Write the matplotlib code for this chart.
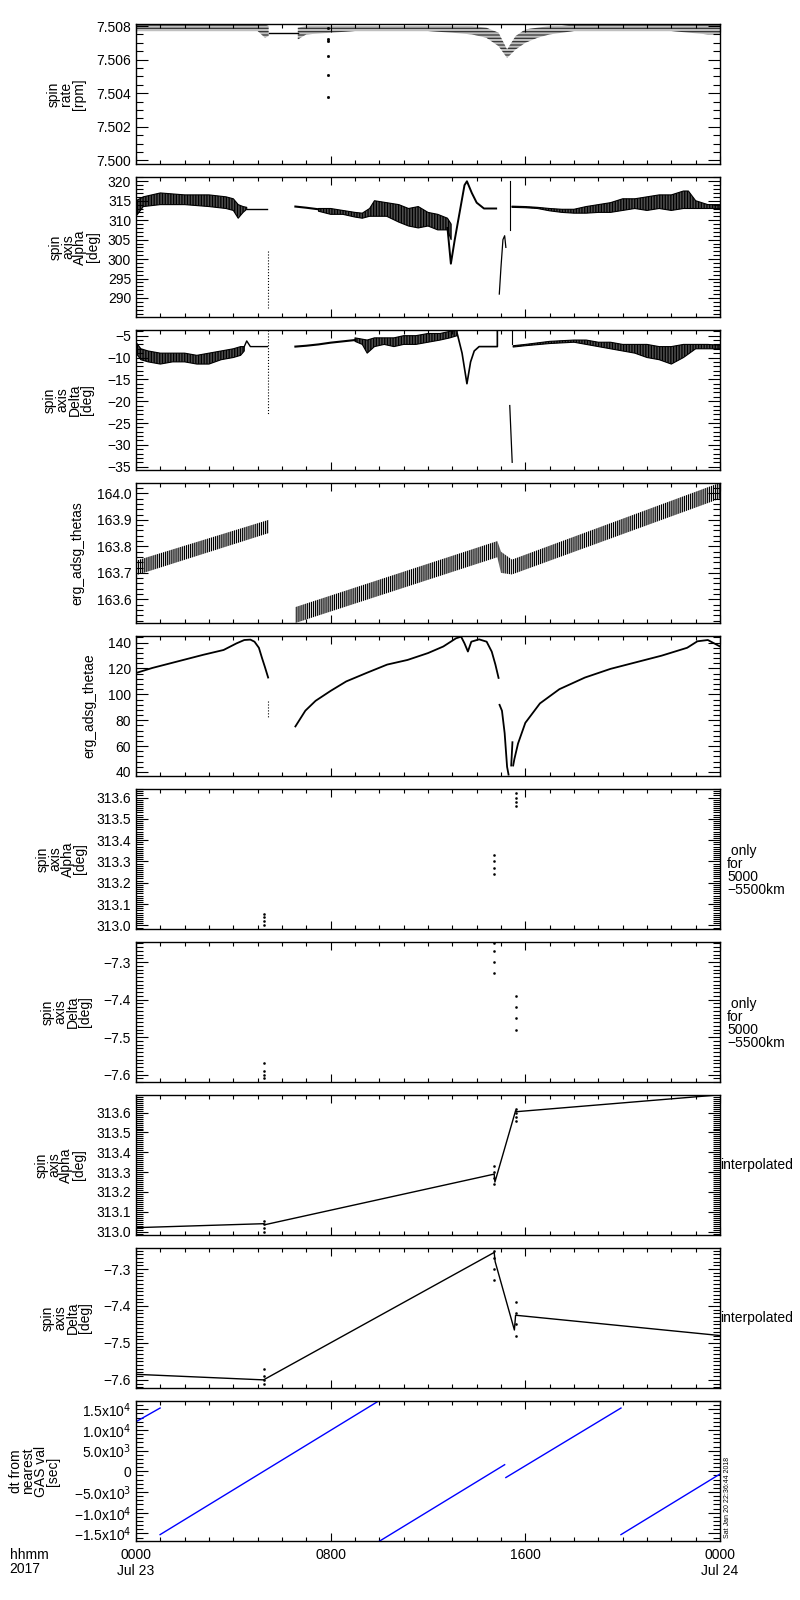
import numpy as np
import matplotlib.pyplot as plt
from matplotlib.ticker import MultipleLocator, FixedLocator, FuncFormatter

plt.rcParams['font.family'] = ['Liberation Sans', 'DejaVu Sans']
plt.rcParams['axes.linewidth'] = 1.0
plt.rcParams['hatch.linewidth'] = 0.9

# hours since 2017-07-23 0000 UT
hour_ticks = [0, 8, 16, 24]
hour_labels = ['0000\nJul 23', '0800', '1600', '0000\nJul 24']

# --- spin rate [rpm] (band of quantised values) ---
rate_a_t = [0, 5.0, 5.3, 5.45]
rate_a_lo = [7.5077, 7.5077, 7.5073, 7.5074]
rate_a_hi = [7.5081, 7.5081, 7.5081, 7.5080]
rate_flat_t = [5.45, 6.65]
rate_flat_v = [7.5076, 7.5076]
rate_b_t = [6.65, 7.0, 8, 9, 10, 11, 12, 13, 13.8, 14.4, 14.9, 15.25, 15.6, 16.0, 16.5, 17, 17.5, 18, 20, 22, 23.5, 24]
rate_b_lo = [7.5072, 7.5075, 7.5076, 7.5077, 7.5077, 7.5077, 7.5077, 7.5076, 7.5075, 7.5073, 7.5068, 7.5061,
             7.5066, 7.5070, 7.5073, 7.5075, 7.5076, 7.5077, 7.5077, 7.5077, 7.5075, 7.5075]
rate_b_hi = [7.5079, 7.5080, 7.5080, 7.5080, 7.5080, 7.5080, 7.5080, 7.5080, 7.5080, 7.5079, 7.5076, 7.5066,
             7.5074, 7.5078, 7.5079, 7.5080, 7.5080, 7.5081, 7.5081, 7.5081, 7.5081, 7.5081]
rate_spike_t = [7.87, 7.87, 7.87, 7.87, 7.87, 7.87]
rate_spike_v = [7.5079, 7.5072, 7.5071, 7.5062, 7.5051, 7.5038]

# --- spin axis Alpha [deg] ---
alp_a_t = [0, 0.3, 1, 2, 3, 3.7, 4.0, 4.2, 4.4, 4.55]
alp_a_lo = [311, 313.5, 314, 314, 313.5, 313, 312.5, 310.5, 312, 312.8]
alp_a_hi = [315, 316, 317, 316.5, 316.5, 316, 315.5, 314, 313.5, 313.3]
alp_flat_t = [4.55, 5.4]
alp_flat_v = [313, 313]
alp_drop_t = [5.43, 5.43, 5.43, 5.43, 5.43]
alp_drop_v = [302, 299, 296, 292, 287.5]
alp_line_t = [6.55, 7.0, 7.5]
alp_line_v = [313.5, 313.2, 312.8]
alp_b_t = [7.5, 8, 8.5, 9, 9.3, 9.6, 9.8, 10.3, 10.8, 11.2, 11.6, 12.0, 12.4, 12.8, 12.95]
alp_b_lo = [312.3, 311.5, 311.5, 310.8, 310.5, 311, 311, 311, 309.5, 308.5, 308, 308.5, 307.5, 307.5, 305]
alp_b_hi = [313, 313, 312.5, 312, 311.8, 313, 315, 314.5, 314, 313, 313.5, 312, 311.5, 310.5, 309]
alp_swing_t = [12.8, 12.94, 13.1, 13.3, 13.5, 13.6, 13.8, 14.0, 14.3, 14.8]
alp_swing_v = [308, 298.8, 305, 312, 319, 320, 317, 314.5, 313, 313]
alp_gap_t = [14.93, 15.0, 15.08, 15.15, 15.2]
alp_gap_v = [291, 298, 305, 306, 303]
alp_jump_t = [15.35, 15.35, 15.35]
alp_jump_v = [320, 314, 307.5]
alp_c_t = [15.45, 16, 16.5, 17, 17.5, 18, 18.5, 19, 19.5, 20, 20.5, 21, 21.5, 22, 22.5, 22.7, 23, 23.5, 24]
alp_c_lo = [313.3, 313.2, 313, 312.4, 312, 311.8, 311.8, 312, 312, 312.5, 313, 312.5, 313, 312.5, 313, 313, 313, 313, 313]
alp_c_hi = [313.6, 313.5, 313.3, 313, 312.8, 312.8, 313.5, 314, 314.5, 315.5, 315.5, 316, 316.5, 316.5, 317.5, 317.5,
            315, 314, 314]

# --- spin axis Delta [deg] ---
dlt_a_t = [0, 0.2, 0.5, 1, 1.5, 2, 2.5, 3, 3.5, 4.0, 4.3, 4.45]
dlt_a_lo = [-9, -10.5, -11, -11.5, -11, -11, -11.5, -11.5, -10.5, -10, -9.5, -8.5]
dlt_a_hi = [-6.5, -8, -8.5, -9, -9, -9, -9.5, -9, -8.5, -8, -7.5, -7.5]
dlt_line_a_t = [4.45, 4.55, 4.7, 5.4]
dlt_line_a_v = [-7.5, -6.2, -7.5, -7.5]
dlt_drop_t = [5.43, 5.43, 5.43, 5.43, 5.43]
dlt_drop_v = [-3.8, -5, -12.5, -22, -23]
dlt_line_b_t = [6.55, 7, 7.5, 8, 8.5, 9]
dlt_line_b_v = [-7.5, -7.3, -7, -6.6, -6.3, -6]
dlt_b_t = [9, 9.3, 9.5, 9.8, 10.2, 10.6, 11, 11.5, 12, 12.5, 12.9, 13.2]
dlt_b_lo = [-6.3, -7, -9, -7.5, -7, -7.5, -7, -7, -6.5, -6, -5.5, -5]
dlt_b_hi = [-5.5, -5.8, -6, -5.5, -5.5, -5.5, -5, -5, -4.5, -4.5, -4, -3.8]
dlt_swing_t = [13.2, 13.4, 13.6, 13.75, 13.9, 14.1, 14.85, 14.85]
dlt_swing_v = [-4.5, -9, -16, -11, -8.5, -7.5, -7.5, -3.8]
dlt_tail_t = [15.36, 15.46]
dlt_tail_v = [-21, -34]
dlt_jump_t = [15.46, 15.46, 15.46]
dlt_jump_v = [-3.7, -5, -7]
dlt_c_t = [15.5, 16, 17, 18, 18.5, 19, 19.5, 20, 20.5, 21, 21.5, 22, 22.5, 23, 23.5, 24]
dlt_c_lo = [-7.6, -7.3, -6.8, -6.5, -7, -7.5, -8, -8.5, -9, -10, -10.5, -11.5, -10, -8, -8, -8]
dlt_c_hi = [-7.3, -7, -6.3, -6, -6, -6.5, -6.5, -7, -7, -7, -7.5, -7.5, -7, -7, -7, -7.2]

# --- erg_adsg_thetas (sawtooth band) ---
ths_a_t = [0, 5.45]
ths_a_lo = [163.691, 163.85]
ths_a_hi = [163.746, 163.90]
ths_b_t = [6.55, 14.85, 15.0, 15.45]
ths_b_lo = [163.511, 163.759, 163.70, 163.694]
ths_b_hi = [163.571, 163.82, 163.78, 163.75]
ths_c_t = [15.45, 24]
ths_c_lo = [163.694, 163.98]
ths_c_hi = [163.75, 164.04]

# --- erg_adsg_thetae ---
the_a_t = [0, 0.67, 1.72, 2.77, 3.6, 4.13, 4.45, 4.7, 4.87, 5.05, 5.18, 5.3, 5.43]
the_a_v = [116.5, 120.4, 125.5, 130.6, 134.3, 139.4, 142, 142.3, 140.7, 136, 128, 121, 113]
the_dots_t = [5.43, 5.43, 5.43, 5.43]
the_dots_v = [95, 90, 85, 82]
the_b_t = [6.55, 6.96, 7.38, 8.0, 8.64, 9.48, 10.32, 11.16, 12.0, 12.63, 13.15, 13.36, 13.5, 13.64, 13.78,
           14.1, 14.41, 14.62, 14.77, 14.9]
the_b_v = [75.2, 87.4, 95, 102.7, 110, 116.6, 123, 126.6, 131.9, 137, 143.3, 144.6, 139.4, 133.1, 140.7,
           142.5, 140.7, 133, 123, 112.7]
the_c_t = [14.94, 15.04, 15.15, 15.25, 15.31]
the_c_v = [91.9, 87.3, 70, 44, 38]
the_d_t = [15.42, 15.47]
the_d_v = [45, 63]
the_e_t = [15.5, 15.55, 15.7, 16.0, 16.6, 17.4, 18.45, 19.5, 20.55, 21.6, 22.65, 23.07, 23.5, 24]
the_e_v = [45, 50, 62, 78, 93, 104, 113, 119.7, 124.8, 129.9, 136, 141, 142, 137]

# --- spin axis values only for 5000-5500 km ---
sel_t1 = [5.24, 5.24, 5.24, 5.24]
sel_alp1 = [313.0, 313.02, 313.04, 313.055]
sel_t2 = [14.72, 14.72, 14.72, 14.72]
sel_alp2 = [313.24, 313.27, 313.3, 313.33]
sel_t3 = [15.6, 15.6, 15.6, 15.6]
sel_alp3 = [313.56, 313.58, 313.6, 313.62]
sel_dlt1 = [-7.57, -7.59, -7.60, -7.61]
sel_dlt2 = [-7.25, -7.27, -7.30, -7.33]
sel_dlt3 = [-7.39, -7.42, -7.45, -7.48]

# --- interpolated spin axis ---
int_alp_t = [0, 5.24, 5.3, 14.72, 14.75, 15.6, 15.65, 24]
int_alp_v = [313.02, 313.04, 313.035, 313.29, 313.25, 313.61, 313.605, 313.69]
int_dlt_t = [0, 5.24, 14.72, 14.76, 15.55, 15.6, 24]
int_dlt_v = [-7.585, -7.60, -7.255, -7.28, -7.465, -7.425, -7.48]

# --- dt from nearest GAS val [sec] ---
gas_t = [[0, 0.99], [0.99, 9.97], [10.0, 15.15], [15.2, 19.93], [19.93, 24]]
gas_dt = [[12000, 15300], [-15300, 17000], [-16900, 1600], [-1500, 15300], [-15300, -650]]


def fmt(dec):
    return FuncFormatter(lambda v, p: f'{v:.{dec}f}'.replace('-', '\u2212'))


fig = plt.figure(figsize=(8, 16), dpi=100)
axes = []
for i in range(10):
    top = 24 + 153 * i
    ax = fig.add_axes([136 / 800, 1 - (top + 140) / 1600, 584 / 800, 140 / 1600])
    ax.set_xlim(0, 24)
    ax.xaxis.set_major_locator(FixedLocator(hour_ticks))
    ax.xaxis.set_minor_locator(MultipleLocator(1))
    ax.tick_params(which='both', direction='in', top=True, right=True, width=0.8, labelsize=10)
    ax.tick_params(axis='y', which='major', length=8.5)
    ax.tick_params(axis='y', which='minor', length=4.8)
    ax.tick_params(axis='x', which='major', length=6)
    ax.tick_params(axis='x', which='minor', length=3)
    if i < 9:
        ax.set_xticklabels([])
    axes.append(ax)


def setup(ax, ylim, major, minor, dec, label, lx):
    ax.set_ylim(*ylim)
    ax.yaxis.set_major_locator(MultipleLocator(major))
    ax.yaxis.set_minor_locator(MultipleLocator(minor))
    ax.yaxis.set_major_formatter(fmt(dec))
    ax.set_ylabel(label, fontsize=10, linespacing=0.85, multialignment='center')
    ax.yaxis.set_label_coords(lx, 0.5)


k = 'black'

# 1 spin rate
ax = axes[0]
setup(ax, (7.49978, 7.50812), 0.002, 0.0005, 3, 'spin\nrate\n[rpm]', -0.086)
ax.fill_between(rate_a_t, rate_a_lo, rate_a_hi, facecolor='0.75', edgecolor='0.2', hatch='-----', lw=0)
ax.fill_between(rate_b_t, rate_b_lo, rate_b_hi, facecolor='0.75', edgecolor='0.2', hatch='-----', lw=0)
ax.plot(rate_flat_t, rate_flat_v, color=k, lw=1)
ax.plot(rate_spike_t, rate_spike_v, ls='none', marker='s', ms=1, color=k)

# 2 alpha
ax = axes[1]
setup(ax, (285.1, 321.1), 5, 1, 0, 'spin\naxis\nAlpha\n[deg]', -0.062)
for t, lo, hi in [(alp_a_t, alp_a_lo, alp_a_hi), (alp_b_t, alp_b_lo, alp_b_hi), (alp_c_t, alp_c_lo, alp_c_hi)]:
    ax.fill_between(t, lo, hi, facecolor='0.3', edgecolor=k, hatch='||||||', lw=0.8)
ax.plot(alp_flat_t, alp_flat_v, color=k, lw=1)
ax.plot(alp_line_t, alp_line_v, color=k, lw=1.5)
ax.plot(alp_swing_t, alp_swing_v, color=k, lw=1.4)
ax.plot(alp_gap_t, alp_gap_v, color=k, lw=0.9)
ax.plot(alp_drop_t, alp_drop_v, color=k, lw=0.8, ls=':')
ax.plot(alp_jump_t, alp_jump_v, color=k, lw=0.8)

# 3 delta
ax = axes[2]
setup(ax, (-35.76, -3.7), 5, 1, 0, 'spin\naxis\nDelta\n[deg]', -0.072)
for t, lo, hi in [(dlt_a_t, dlt_a_lo, dlt_a_hi), (dlt_b_t, dlt_b_lo, dlt_b_hi), (dlt_c_t, dlt_c_lo, dlt_c_hi)]:
    ax.fill_between(t, lo, hi, facecolor='0.3', edgecolor=k, hatch='||||||', lw=0.8)
ax.plot(dlt_line_a_t, dlt_line_a_v, color=k, lw=1)
ax.plot(dlt_line_b_t, dlt_line_b_v, color=k, lw=1.5)
ax.plot(dlt_swing_t, dlt_swing_v, color=k, lw=1.2)
ax.plot(dlt_tail_t, dlt_tail_v, color=k, lw=0.9)
ax.plot(dlt_drop_t, dlt_drop_v, color=k, lw=0.8, ls=':')
ax.plot(dlt_jump_t, dlt_jump_v, color=k, lw=0.8)

# 4 thetas
ax = axes[3]
setup(ax, (163.511, 164.039), 0.1, 0.02, 1, 'erg_adsg_thetas', -0.089)
for t, lo, hi in [(ths_a_t, ths_a_lo, ths_a_hi), (ths_b_t, ths_b_lo, ths_b_hi), (ths_c_t, ths_c_lo, ths_c_hi)]:
    ax.fill_between(t, lo, hi, facecolor='white', edgecolor=k, hatch='||||||||', lw=0)

# 5 thetae
ax = axes[4]
setup(ax, (36.9, 145.1), 20, 4, 0, 'erg_adsg_thetae', -0.067)
for t, v in [(the_a_t, the_a_v), (the_b_t, the_b_v), (the_c_t, the_c_v), (the_d_t, the_d_v), (the_e_t, the_e_v)]:
    ax.plot(t, v, color=k, lw=1.3)
ax.plot(the_dots_t, the_dots_v, color=k, lw=0.8, ls=':')

# 6 alpha only for 5000-5500km
ax = axes[5]
setup(ax, (312.983, 313.64), 0.1, 0.01, 1, 'spin\naxis\nAlpha\n[deg]', -0.084)
for t, v in [(sel_t1, sel_alp1), (sel_t2, sel_alp2), (sel_t3, sel_alp3)]:
    ax.plot(t, v, ls='none', marker='s', ms=0.8, color=k)
ax.text(1.012, 0.42, ' only\nfor\n5000\n\u22125500km', transform=ax.transAxes, fontsize=10,
        va='center', ha='left', linespacing=0.9)

# 7 delta only for 5000-5500km
ax = axes[6]
setup(ax, (-7.62, -7.246), 0.1, 0.01, 1, 'spin\naxis\nDelta\n[deg]', -0.075)
for t, v in [(sel_t1, sel_dlt1), (sel_t2, sel_dlt2), (sel_t3, sel_dlt3)]:
    ax.plot(t, v, ls='none', marker='s', ms=0.8, color=k)
ax.text(1.012, 0.42, ' only\nfor\n5000\n\u22125500km', transform=ax.transAxes, fontsize=10,
        va='center', ha='left', linespacing=0.9)

# 8 alpha interpolated
ax = axes[7]
setup(ax, (312.983, 313.689), 0.1, 0.01, 1, 'spin\naxis\nAlpha\n[deg]', -0.086)
ax.plot(int_alp_t, int_alp_v, color=k, lw=1)
for t, v in [(sel_t1, sel_alp1), (sel_t2, sel_alp2), (sel_t3, sel_alp3)]:
    ax.plot(t, v, ls='none', marker='s', ms=0.8, color=k)
ax.text(1.0, 0.5, 'interpolated', transform=ax.transAxes, fontsize=10, va='center', ha='left')

# 9 delta interpolated
ax = axes[8]
setup(ax, (-7.622, -7.243), 0.1, 0.01, 1, 'spin\naxis\nDelta\n[deg]', -0.075)
ax.plot(int_dlt_t, int_dlt_v, color=k, lw=1)
for t, v in [(sel_t1, sel_dlt1), (sel_t2, sel_dlt2), (sel_t3, sel_dlt3)]:
    ax.plot(t, v, ls='none', marker='s', ms=0.8, color=k)
ax.text(1.0, 0.5, 'interpolated', transform=ax.transAxes, fontsize=10, va='center', ha='left')

# 10 dt from nearest GAS value
ax = axes[9]
ax.set_ylim(-16840, 17000)
ax.yaxis.set_major_locator(FixedLocator([-15000, -10000, -5000, 0, 5000, 10000, 15000]))
ax.yaxis.set_minor_locator(MultipleLocator(1000))
ax.set_yticklabels(['\u22121.5x10$^4$', '\u22121.0x10$^4$', '\u22125.0x10$^3$', '0',
                    '5.0x10$^3$', '1.0x10$^4$', '1.5x10$^4$'])
ax.set_ylabel('dt from\nnearest\nGAS val\n[sec]', fontsize=10, linespacing=0.85, multialignment='center')
ax.yaxis.set_label_coords(-0.13, 0.5)
for t, v in zip(gas_t, gas_dt):
    ax.plot(t, v, color='blue', lw=1)
ax.set_xticklabels(hour_labels)
ax.tick_params(axis='x', pad=5)
ax.text(1.006, 0.02, 'Sat Jan 20 22:36:44 2018', transform=ax.transAxes, fontsize=5,
        rotation=90, va='bottom', ha='left')

fig.text(0.012, 1 - 1548 / 1600, 'hhmm\n2017', fontsize=10, va='top', ha='left', linespacing=1.0)

fig.savefig('out.png', dpi=100)
